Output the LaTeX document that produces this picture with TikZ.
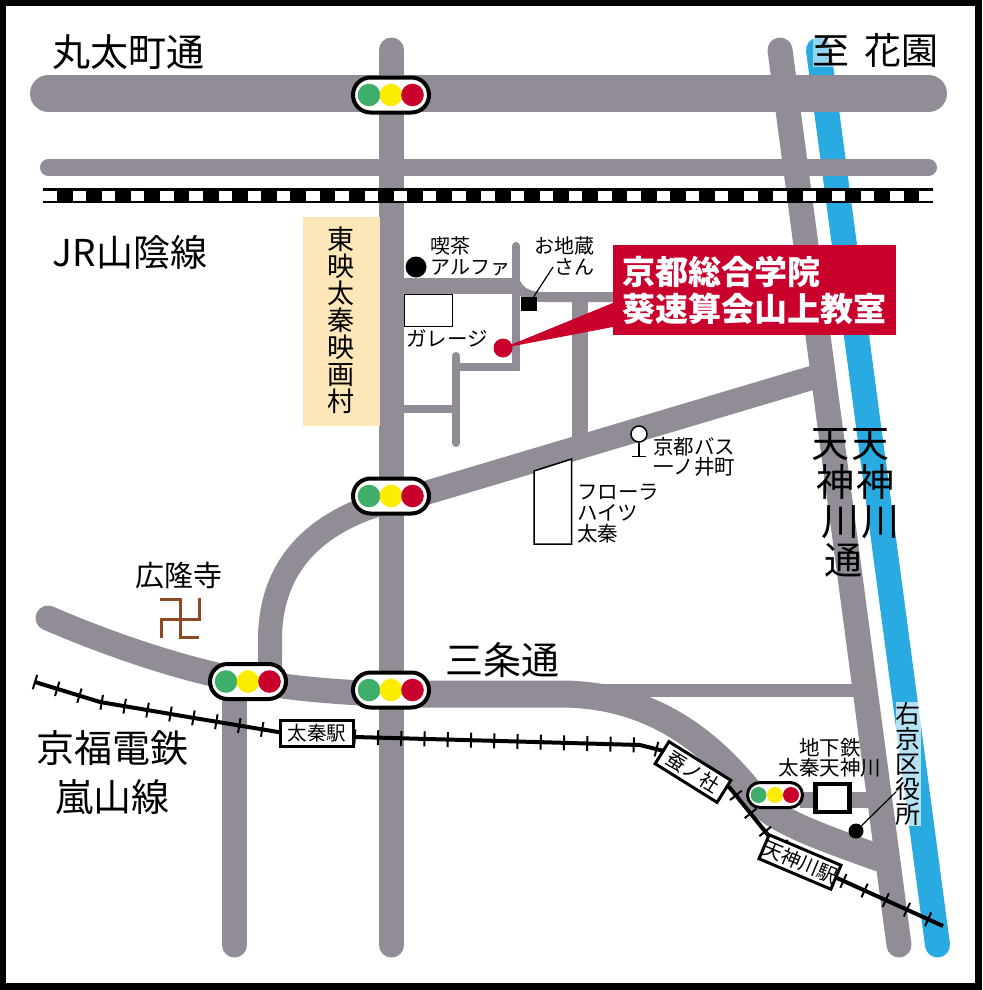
\documentclass[tikz,border=0pt]{standalone}
\usepackage{fontspec}
\setmainfont{Noto Sans CJK JP}
\usetikzlibrary{decorations.markings,shapes.misc,calc}
\definecolor{roadgray}{HTML}{918C96}
\definecolor{riverblue}{HTML}{29ABE2}
\definecolor{signred}{HTML}{C9002C}
\definecolor{siggreen}{HTML}{3FAE6A}
\definecolor{sigyellow}{HTML}{FCEC00}
\definecolor{templebrown}{HTML}{8B4A25}
\definecolor{filmcream}{HTML}{FDE6B8}
\newcommand{\fs}[1]{\fontsize{#1}{#1}\selectfont}
\tikzset{
    road/.style={roadgray,line width=#1,line cap=round},
    maplbl/.style={inner sep=0,align=center,font=\fs{#1}},
    bigsignal/.style={rounded rectangle,draw=black,fill=white,line width=4,minimum width=76,minimum height=35,inner sep=0},
    smallsignal/.style={rounded rectangle,draw=black,fill=white,line width=3,minimum width=55,minimum height=25,inner sep=0},
    stationbox/.style={draw=black,fill=white,line width=3,minimum width=73,minimum height=26,inner sep=0,font=\fs{19.5}},
    rail/.style={black,line width=4,line join=round,postaction={decorate},decoration={markings,
        mark=between positions 0 and 1 step 23.25pt with {\draw[line width=2] (0,-7.5) -- (0,7.5);}}}
}

\begin{document}
\begin{tikzpicture}[x=1pt,y=-1pt]
    \useasboundingbox (0,0) rectangle (982,990);
    % Draw frame.
    \draw[line width=6.5] (3.2,3.2) rectangle (978.7,986.7);

    % Draw river.
    \draw[riverblue,line width=25,line cap=round] (818.5,50) -- (937.5,945);

    % Draw main roads.
    \draw[road=37] (48.5,93.5) -- (928.5,93.5);
    \draw[road=17] (48.5,167.5) -- (928.5,167.5);
    \draw[road=25] (391.5,50) -- (391.5,945);
    \draw[road=25] (780,50) -- (899,945);
    \draw[road=25] (234.5,690) -- (234.5,945);
    \draw[road=24] (392,503) -- (815,377);
    \draw[road=24] (392,500) -- (365,509) .. controls (310,530) and (270,570) .. (270,640) -- (270,685);
    \draw[road=25] (48,618) .. controls (110,645) and (190,672) .. (248,681) .. controls (290,688) and (340,693) .. (392,694);
    \draw[road=27,line cap=butt] (392,694) -- (560,694) .. controls (640,694) and (700,730) .. (750,792) .. controls (770,818) and (800,830) .. (885,860);
    \draw[road=13,line cap=butt] (600,690.5) -- (855,690.5);
    \draw[road=16,line cap=butt] (800,800) -- (870,800);

    % Draw side roads.
    \draw[road=16,line cap=butt] (392,286) -- (518,286);
    \draw[road=10,line cap=butt] (516,284) .. controls (522,294) and (530,297) .. (545,297) -- (620,297);
    \draw[road=8] (516,246) -- (516,366.5) -- (456,366.5);
    \draw[road=8] (456,356) -- (456,443);
    \draw[road=8,line cap=butt] (392,408.5) -- (456,408.5);
    \draw[road=16,line cap=butt] (580,297) -- (580,440);

    % Draw film village.
    \fill[filmcream] (303,217) rectangle (379.5,426);
    \node[maplbl=27] (toei) at (341,320) {東\\映\\太\\秦\\映\\画\\村};

    % Draw JR line.
    \fill[black] (43,188) rectangle (932.5,203);
    \foreach \i in {-1,0,...,29}
        \fill[white] ({max(43,72.5+29.2*\i)},190.7) rectangle ({72.5+29.2*\i+13.4},200.7);

    % Draw Keifuku line.
    \draw[rail] (35,682) -- (100,702) -- (200,719) -- (278,732) -- (355,737)
        -- (500,741) -- (640,745) -- (668,752) -- (730,788) -- (768,835) -- (800,858) -- (837,878) -- (943,926);
    \node[stationbox] (uzumasa) at (317,733.5) {太秦駅};
    \node[stationbox,rotate=-32] (kaiko) at (693,772) {蚕ノ社};
    \node[stationbox,rotate=-23] (tenjinsta) at (800,862) {天神川駅};

    % Draw signals.
    \foreach \s/\X/\Y in {sigA/391/95,sigB/391/496,sigC/391/690,sigD/248/681.5} {
        \node[bigsignal] (\s) at (\X,\Y) {};
        \fill[siggreen] (\X-22,\Y) circle [radius=11.3pt];
        \fill[sigyellow] (\X,\Y) circle [radius=11.3pt];
        \fill[signred] (\X+21.5,\Y) circle [radius=11.3pt];
    }
    \node[smallsignal] (sigE) at (775,795) {};
    \fill[siggreen] (758.5,795) circle [radius=8pt];
    \fill[sigyellow] (775,795) circle [radius=8pt];
    \fill[signred] (791,795) circle [radius=8pt];

    % Draw subway station and ward office.
    \node[draw=black,fill=white,line width=4.5,minimum width=34,minimum height=28,inner sep=0] (subway) at (832.5,798) {};
    \node[maplbl=20.5] (subwaylbl) at (830,758) {地下鉄\\太秦天神川};
    \node[circle,fill=black,minimum size=15,inner sep=0] (ward) at (856,831) {};
    \coordinate (wardtop) at (900,788);
    \draw[line width=1.2] (ward) -- (wardtop);
    \node[maplbl=25,fill=white,fill opacity=.65,text opacity=1] (wardlbl) at (908,764) {右\\京\\区\\役\\所};

    % Draw destination.
    \node[circle,fill=signred,minimum size=19,inner sep=0] (dest) at (503,348) {};
    \node[fill=signred,text=white,minimum width=283,minimum height=90,inner sep=0,align=left,font=\bfseries\fontsize{33}{37}\selectfont] (callbox) at (754.5,290) {京都総合学院\\葵速算会山上教室};
    \fill[signred] (dest.center) -- ([yshift=-13pt]callbox.west) -- ([yshift=-37pt]callbox.west) -- cycle;

    % Draw small places.
    \node[circle,fill=black,minimum size=21,inner sep=0] (alpha) at (416,267) {};
    \node[maplbl=20,align=left,anchor=west,font=\fontsize{20}{21}\selectfont] (alphalbl) at (430,256.5) {\hspace*{0pt}喫茶\\アルファ};
    \node[maplbl=20,align=right,font=\fontsize{20}{21}\selectfont] (jizolbl) at (564,256.5) {お地蔵\\さん};
    \node[fill=black,minimum width=16,minimum height=14,inner sep=0] (jizo) at (529,304) {};
    \coordinate (jizotop) at (553,267);
    \draw[line width=1.2] (jizotop) -- (jizo);
    \draw[line width=1] (404,294) rectangle (452.5,326.5);
    \node[maplbl=20.5,anchor=west] (garage) at (406,338) {ガレージ};
    \draw[line width=1.5,fill=white] (534,471) -- (571.7,459) -- (571.7,544) -- (534,544) -- cycle;
    \node[maplbl=21,align=left,anchor=west,font=\fontsize{20.5}{21}\selectfont] (flora) at (577,514) {フローラ\\ハイツ\\太秦};

    % Draw bus stop.
    \node[circle,draw=black,fill=white,line width=1.5,minimum size=16,inner sep=0] (busstop) at (639,434) {};
    \coordinate (busfoot) at (639,456.5);
    \draw[line width=1.5] (busstop) -- (busfoot);
    \draw[line width=1.5] ($(busfoot)+(-7,0)$) -- ($(busfoot)+(7,0)$);
    \node[maplbl=20.5,align=left,anchor=west,font=\fontsize{20.5}{20.5}\selectfont] (buslbl) at (653,457) {京都バス\\一ノ井町};

    % Draw temple.
    \draw[templebrown,line width=3] (160,599.5) -- (180,599.5) -- (180,637.5) -- (199,637.5);
    \draw[templebrown,line width=3] (161,638) -- (161,619) -- (199,619) -- (199,598);
    \node[maplbl=29] (koryuji) at (179,576) {広隆寺};

    % Draw big labels.
    \node[maplbl=38] (maruta) at (128.5,52) {丸太町通};
    \node[maplbl=37,fill=white,fill opacity=.5,text opacity=1] (hanazono) at (875.5,50) {至 \hspace{6pt}花園};
    \node[maplbl=37] (jr) at (130,252) {JR山陰線};
    \node[maplbl=38] (sanjo) at (502,660) {三条通};
    \node[maplbl=38,font=\fontsize{38}{49}\selectfont] (keifuku) at (112.5,772.5) {京福電鉄\\嵐山線};
    \node[inner sep=0,align=left,font=\fontsize{38}{39}\selectfont] (tenjinriver) at (875,484) {天\\\hspace*{5pt}神\\\hspace*{10pt}川};
    \node[inner sep=0,align=left,font=\fontsize{38}{39}\selectfont] (tenjinroad) at (836.5,503) {天\\\hspace*{5pt}神\\\hspace*{10pt}川\\\hspace*{13pt}通};
\end{tikzpicture}
\end{document}
